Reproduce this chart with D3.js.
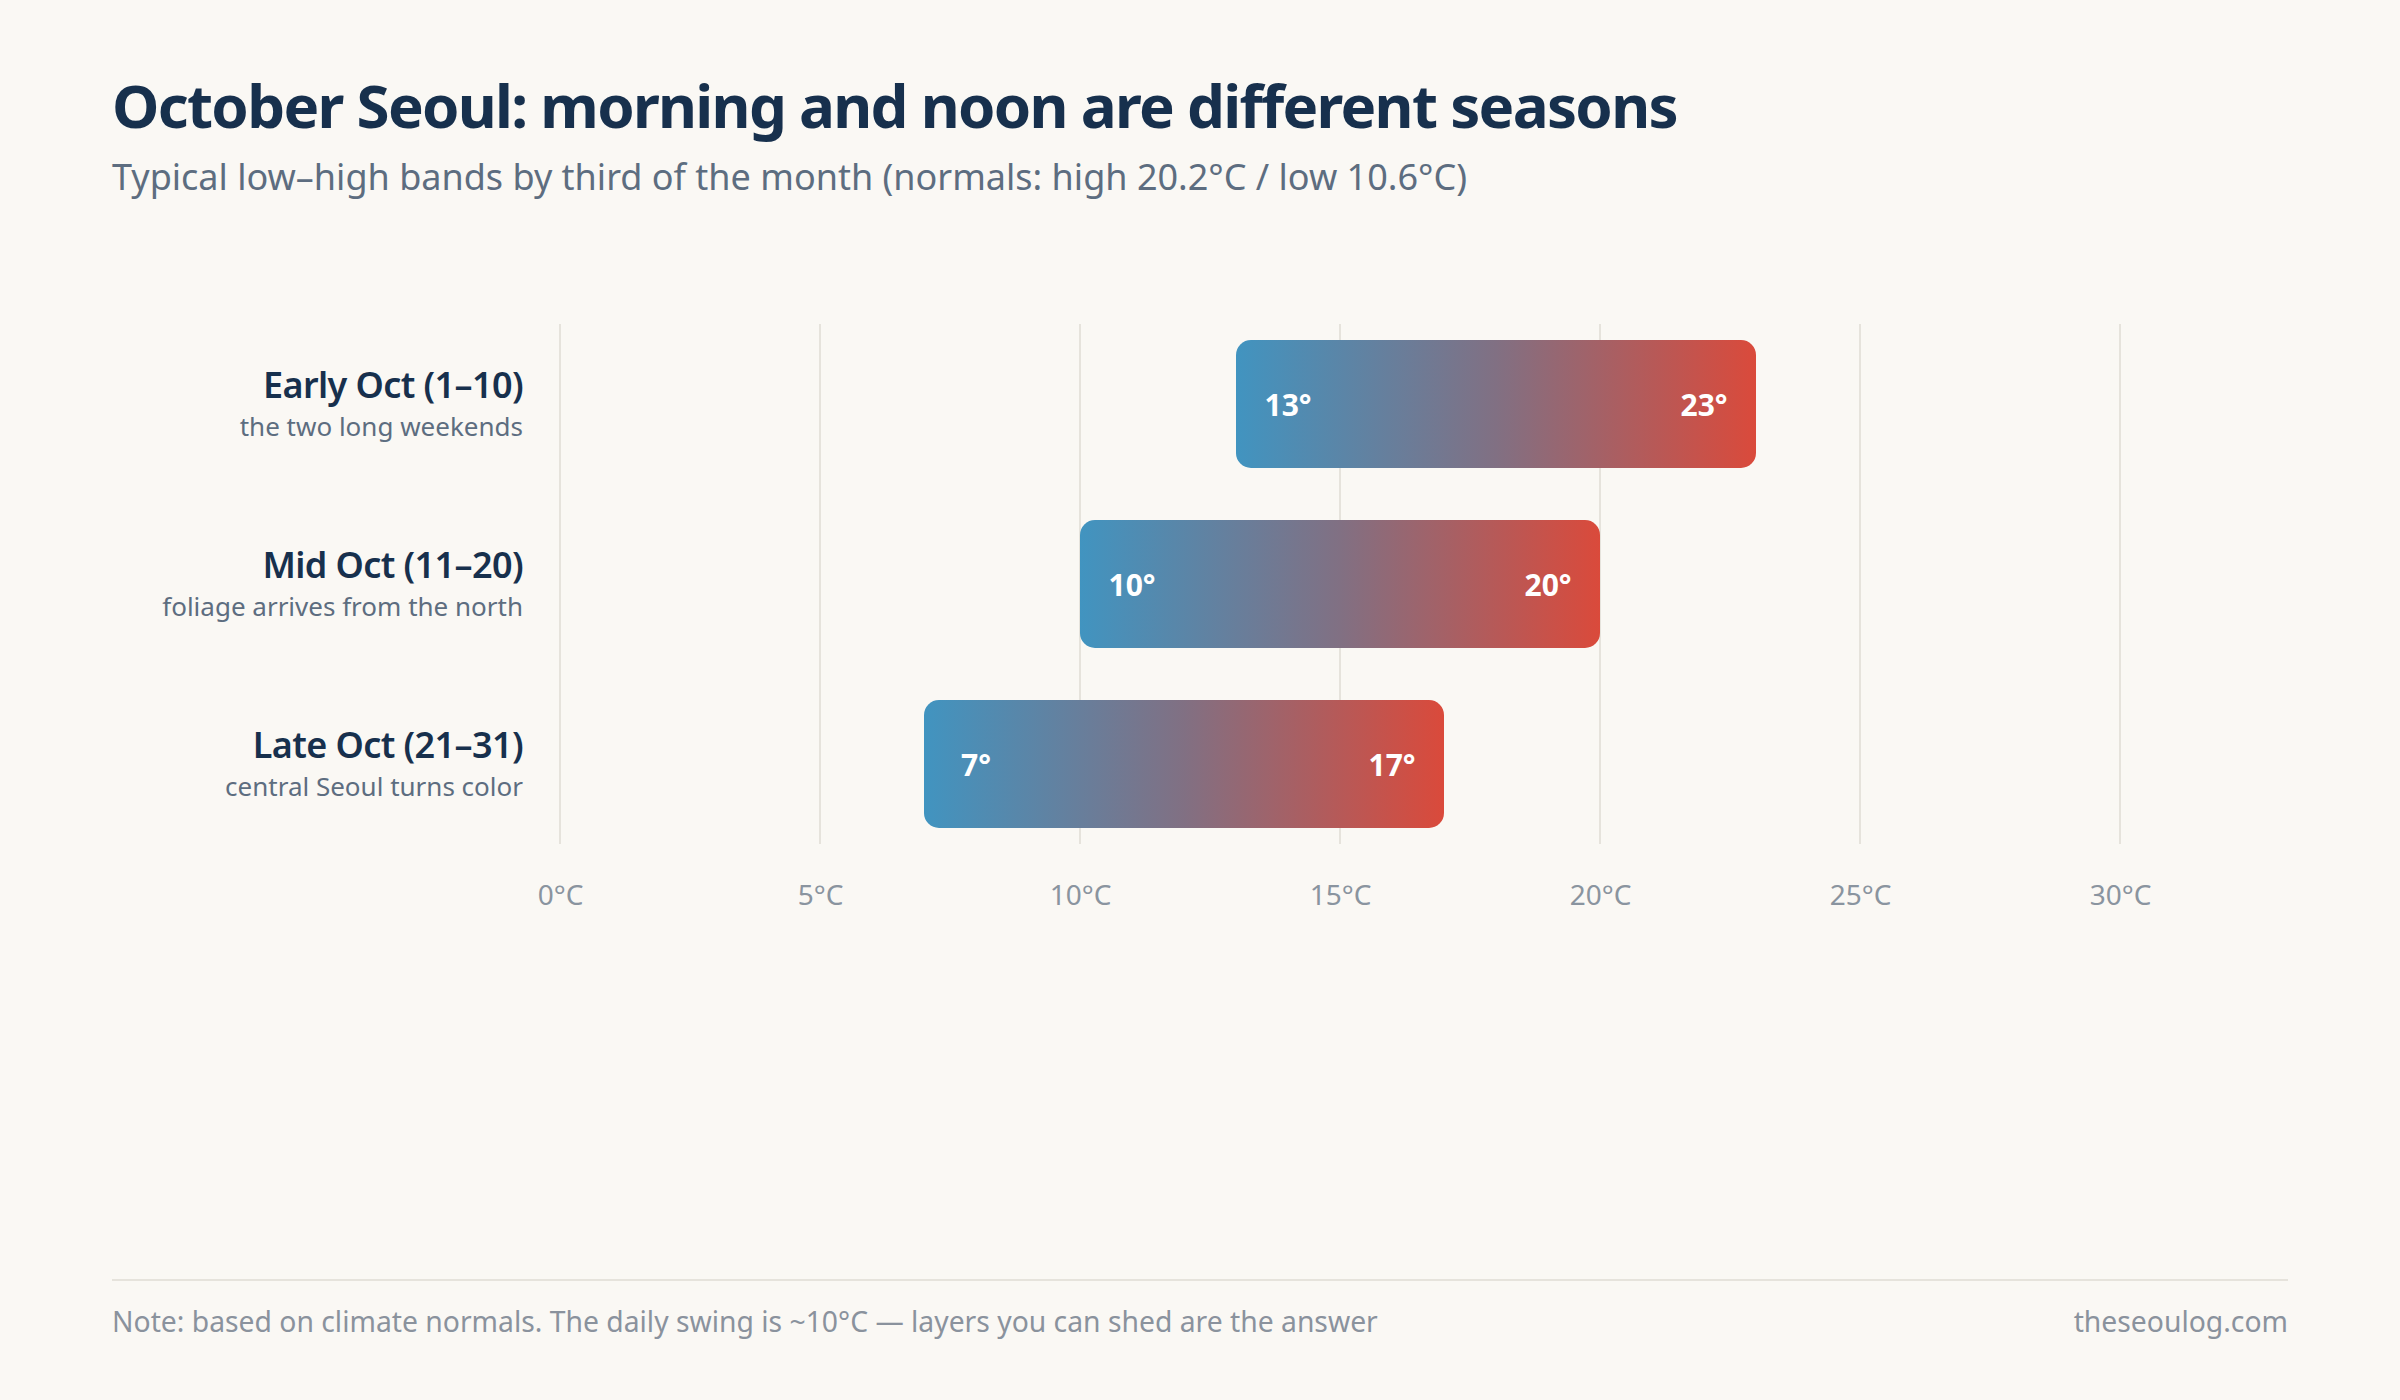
<!DOCTYPE html>
<html>
<head>
<meta charset="utf-8">
<script src="https://cdn.jsdelivr.net/npm/d3@7"></script>
<style>
  html, body { margin: 0; padding: 0; background: #faf8f4; }
  svg { display: block; font-family: "Noto Sans", "Open Sans", sans-serif; }
</style>
</head>
<body>
<svg id="chart"></svg>
<script>
(function () {
  const periods = ["Early Oct (1–10)", "Mid Oct (11–20)", "Late Oct (21–31)"];
  const notes = ["the two long weekends", "foliage arrives from the north", "central Seoul turns color"];
  const lows = [13, 10, 7];
  const highs = [23, 20, 17];
  const ticks = [0, 5, 10, 15, 20, 25, 30];

  const width = 2400;
  const height = 1400;
  const svg = d3.select("#chart").attr("width", width).attr("height", height);

  svg.append("rect").attr("width", width).attr("height", height).attr("fill", "#faf8f4");

  const grad = svg.append("defs").append("linearGradient")
    .attr("id", "band").attr("x1", "0%").attr("x2", "100%").attr("y1", "0%").attr("y2", "0%");
  grad.append("stop").attr("offset", "0%").attr("stop-color", "#4194c0");
  grad.append("stop").attr("offset", "50%").attr("stop-color", "#817083");
  grad.append("stop").attr("offset", "100%").attr("stop-color", "#da4a3b");

  // header
  svg.append("text").attr("x", 112).attr("y", 128)
    .attr("font-size", 60).attr("font-weight", 700).attr("fill", "#17304d")
    .attr("letter-spacing", -1.7)
    .text("October Seoul: morning and noon are different seasons");
  svg.append("text").attr("x", 112).attr("y", 190)
    .attr("font-size", 36).attr("fill", "#5d6d80")
    .text("Typical low–high bands by third of the month (normals: high 20.2°C / low 10.6°C)");

  const x = d3.scaleLinear().domain([0, 30]).range([560, 2120]);
  const y = d3.scaleBand().domain(periods).range([314, 854]).paddingInner(0.29).paddingOuter(0.145);

  const rows = periods.map((p, i) => ({ period: p, note: notes[i], low: lows[i], high: highs[i] }));

  // grid
  svg.append("g").selectAll("line").data(ticks).join("line")
    .attr("x1", (d) => x(d)).attr("x2", (d) => x(d))
    .attr("y1", y.range()[0] + 10).attr("y2", y.range()[1] - 10)
    .attr("stroke", "#e6e3dc").attr("stroke-width", 2);

  // axis labels
  const axis = svg.append("g").attr("transform", `translate(0,${y.range()[1]})`)
    .call(d3.axisBottom(x).tickValues(ticks).tickSize(0).tickPadding(31).tickFormat((d) => `${d}°C`));
  axis.select(".domain").remove();
  axis.selectAll("text").attr("font-size", 28).attr("fill", "#8a949f")
    .attr("font-family", "\"Noto Sans\", sans-serif");

  // bars
  const bar = svg.append("g").selectAll("g").data(rows).join("g");
  bar.append("rect")
    .attr("x", (d) => x(d.low)).attr("y", (d) => y(d.period))
    .attr("width", (d) => x(d.high) - x(d.low)).attr("height", y.bandwidth())
    .attr("rx", 15).attr("fill", "url(#band)");
  // value labels sit one degree inside each end
  bar.append("text")
    .attr("x", (d) => x(d.low + 1)).attr("y", (d) => y(d.period) + y.bandwidth() / 2 + 12)
    .attr("text-anchor", "middle")
    .attr("font-size", 30).attr("font-weight", 700).attr("fill", "#fff")
    .text((d) => `${d.low}°`);
  bar.append("text")
    .attr("x", (d) => x(d.high - 1)).attr("y", (d) => y(d.period) + y.bandwidth() / 2 + 12)
    .attr("text-anchor", "middle")
    .attr("font-size", 30).attr("font-weight", 700).attr("fill", "#fff")
    .text((d) => `${d.high}°`);

  // row labels
  const label = svg.append("g").selectAll("g").data(rows).join("g")
    .attr("transform", (d) => `translate(523,${y(d.period) + y.bandwidth() / 2})`);
  label.append("text").attr("y", -6).attr("text-anchor", "end")
    .attr("font-size", 36).attr("font-weight", 600).attr("fill", "#17304d")
    .attr("letter-spacing", -0.6)
    .text((d) => d.period);
  label.append("text").attr("y", 32).attr("text-anchor", "end")
    .attr("font-size", 26).attr("fill", "#5d6d80")
    .text((d) => d.note);

  // footer
  svg.append("line").attr("x1", 112).attr("x2", 2288).attr("y1", 1280).attr("y2", 1280)
    .attr("stroke", "#e6e3dc").attr("stroke-width", 2);
  svg.append("text").attr("x", 112).attr("y", 1332)
    .attr("font-size", 28.3).attr("fill", "#8a929d")
    .text("Note: based on climate normals. The daily swing is ~10°C — layers you can shed are the answer");
  svg.append("text").attr("x", 2288).attr("y", 1332).attr("text-anchor", "end")
    .attr("font-size", 28.3).attr("fill", "#8a929d")
    .text("theseoulog.com");
})();
</script>
</body>
</html>
